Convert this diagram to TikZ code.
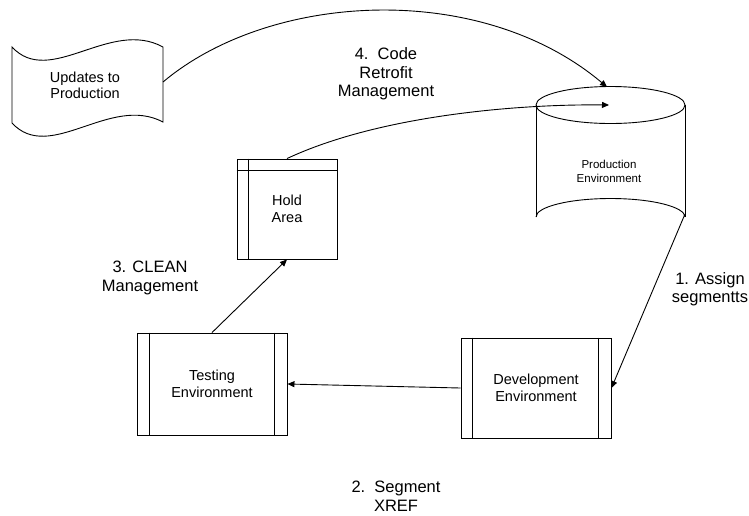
\documentclass[tikz,border=0pt]{standalone}
\usepackage{fontspec}
\setmainfont{Liberation Sans}
\usetikzlibrary{arrows.meta}
\begin{document}
\begin{tikzpicture}[x=1pt,y=-1pt,line width=0.9pt,
  box/.style={draw, rectangle, minimum width=150pt, minimum height=100pt, inner sep=0pt, align=center, font=\fontsize{14.5}{17}\selectfont},
  lbl/.style={align=center, font=\fontsize{16.5}{18.5}\selectfont},
  conn/.style={-{Triangle[length=7pt,width=6pt]}}]
\useasboundingbox[fill=white] (0,0) rectangle (749,515);

% Updates to Production (tape)
\draw (12,47) .. controls (50,88) and (110,18) .. (163,47) -- (163,122)
      .. controls (110,94) and (50,164) .. (12,123) -- cycle;
\node[align=center, font=\fontsize{14.5}{16}\selectfont] (upd) at (85,85) {Updates to\\Production};
\coordinate (updR) at (163,82);

% Production Environment (cylinder)
\draw (536,217) -- (536,105);
\draw (685,105) -- (685,217);
\draw (610.5,105) ellipse [x radius=74.5pt, y radius=18.5pt];
\draw (536,217) arc [start angle=180, end angle=0, x radius=74.5pt, y radius=18.5pt];
\node[align=center, font=\fontsize{11.5}{13.5}\selectfont] (prod) at (609,171.5) {Production\\Environment};
\coordinate (prodTop) at (607,87);
\coordinate (prodIn) at (609,105);
\coordinate (prodBot) at (685,214);

% Hold Area
\node[box, minimum width=100pt, minimum height=100pt] (hold) at (287,209) {Hold\\Area};
\draw ([xshift=12pt]hold.north west) -- ([xshift=12pt]hold.south west);
\draw ([yshift=-12pt]hold.north west) -- ([yshift=-12pt]hold.north east);

% Testing Environment
\node[box, minimum height=102pt] (test) at (212,384) {Testing\\Environment};
\draw ([xshift=13pt]test.north west) -- ([xshift=13pt]test.south west);
\draw ([xshift=-13pt]test.north east) -- ([xshift=-13pt]test.south east);

% Development Environment
\node[box] (dev) at (536,388) {Development\\Environment};
\draw ([xshift=12pt]dev.north west) -- ([xshift=12pt]dev.south west);
\draw ([xshift=-13pt]dev.north east) -- ([xshift=-13pt]dev.south east);

% Connectors
\draw[conn] (updR) .. controls (270,-8) and (480,-20) .. (prodTop);
\draw[conn] (hold.north) .. controls (380,115) and (520,104) .. (prodIn);
\draw[conn] (prodBot) -- (dev.east);
\draw[conn] (dev.west) -- (test.east);
\draw[conn] (test.north) -- (hold.south);

% Labels
\node[lbl] (l4) at (386,74) {4.~~Code\\Retrofit\\Management};
\node[lbl] (l3) at (150,278) {3. CLEAN\\Management};
\node[lbl] (l1) at (710,289) {1. Assign\\segmentts};
\node[lbl] (l2) at (396,496) {2.~~Segment\\XREF};
\end{tikzpicture}
\end{document}
